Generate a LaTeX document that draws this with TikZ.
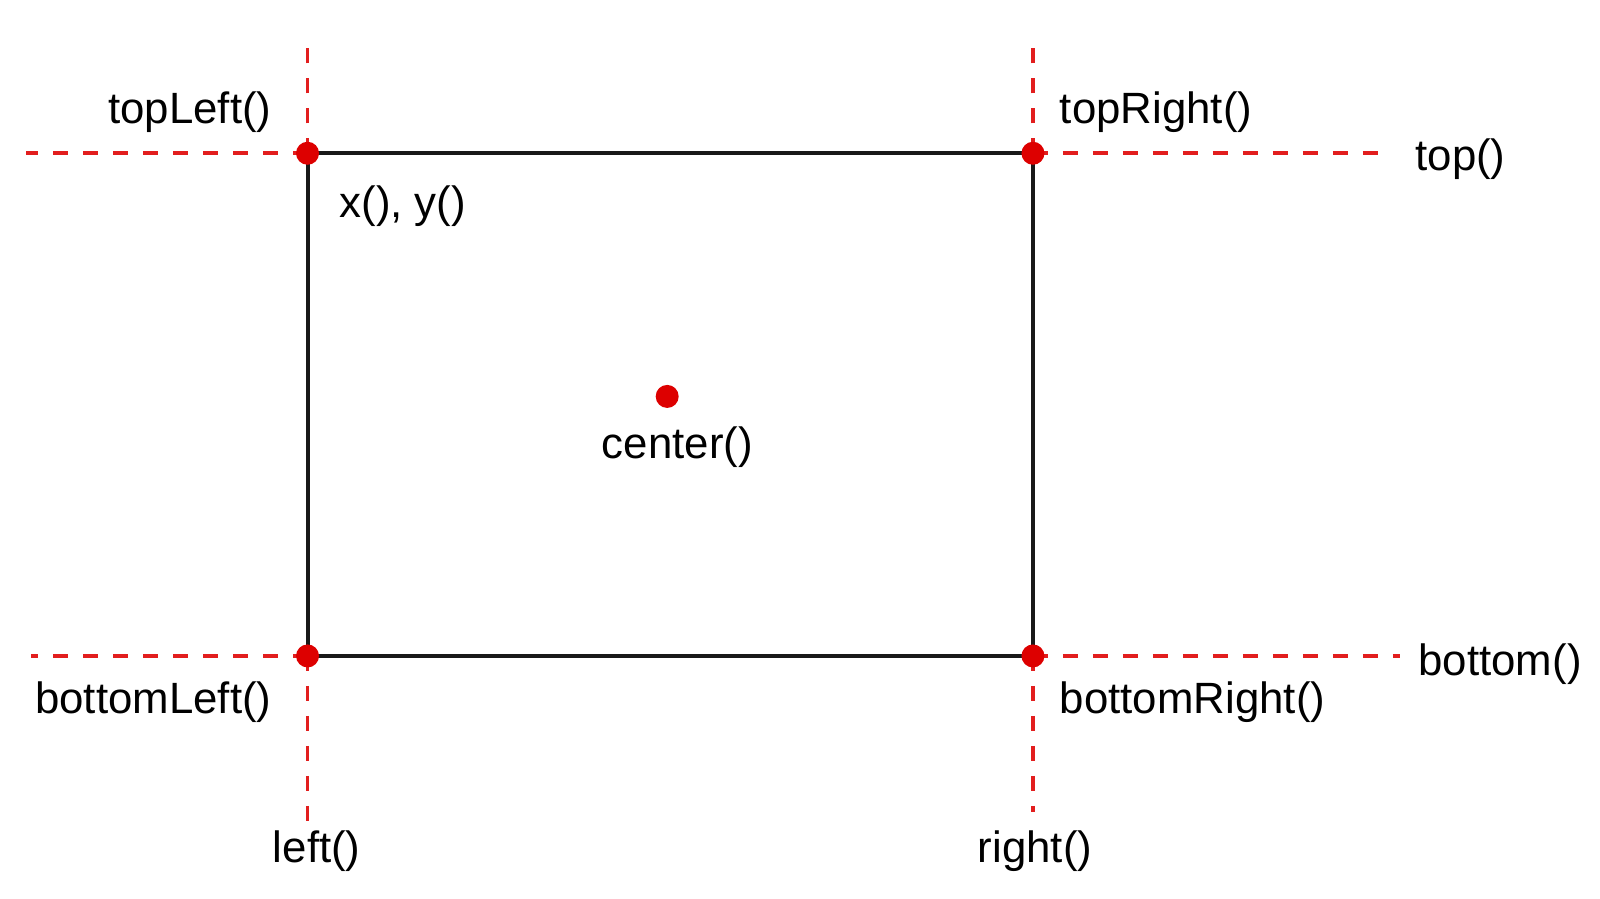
\documentclass[tikz,border=0pt]{standalone}
\usepackage{fontspec}
\setmainfont{Liberation Sans}
\definecolor{qred}{RGB}{221,0,0}
\definecolor{qdash}{RGB}{226,30,30}
\begin{document}
\begin{tikzpicture}[x=0.51085pt,y=-0.51085pt,
  frame/.style={draw=black!90, line width=2pt},
  guide/.style={draw=qdash, line width=1.8pt, dash pattern=on 7.5pt off 7.5pt},
  dot/.style={circle, fill=qred, inner sep=0pt, minimum size=11.5pt},
  lbl/.style={inner sep=0pt, font=\fontsize{21.9}{26}\selectfont, text=black}]
\useasboundingbox (0,0) rectangle (1566,879);
\fill[white] (0,0) rectangle (1566,879);
% corners
\coordinate (tl) at (301,150);
\coordinate (tr) at (1011,150);
\coordinate (bl) at (301,642);
\coordinate (br) at (1011,642);
% guide free ends
\coordinate (tlW) at (25,150);
\coordinate (tlN) at (301,45);
\coordinate (trN) at (1011,35);
\coordinate (trE) at (1355,150);
\coordinate (blW) at (30,642);
\coordinate (blS) at (301,810);
\coordinate (brE) at (1370,642);
\coordinate (brS) at (1011,795);
% guides
\draw[guide] (tl) -- (tlW);
\draw[guide] (tl) -- (tlN);
\draw[guide] (tr) -- (trN);
\draw[guide] (tr) -- (trE);
\draw[guide] (bl) -- (blW);
\draw[guide] (bl) -- (blS);
\draw[guide] (br) -- (brE);
\draw[guide] (br) -- (brS);
% rectangle
\draw[frame] (tl) -- (tr) -- (br) -- (bl) -- cycle;
% dots
\node[dot] (dtl) at (tl) {};
\node[dot] (dtr) at (tr) {};
\node[dot] (dbl) at (bl) {};
\node[dot] (dbr) at (br) {};
\node[dot] (dc) at (653,388) {};
% labels
\node[lbl, anchor=east] (ltl) at (266,110) {topLeft()};
\node[lbl, anchor=west] (ltr) at (1037,110) {topRight()};
\node[lbl, anchor=west] (ltop) at (1385,156) {top()};
\node[lbl, anchor=west] (lxy) at (332,202) {x(), y()};
\node[lbl] (lc) at (663,438) {center()};
\node[lbl, anchor=east] (lbl2) at (266,687) {bottomLeft()};
\node[lbl, anchor=west] (lbr) at (1037,687) {bottomRight()};
\node[lbl, anchor=west] (lbot) at (1388,650) {bottom()};
\node[lbl] (lleft) at (310,833) {left()};
\node[lbl] (lright) at (1013,833) {right()};
\end{tikzpicture}
\end{document}
